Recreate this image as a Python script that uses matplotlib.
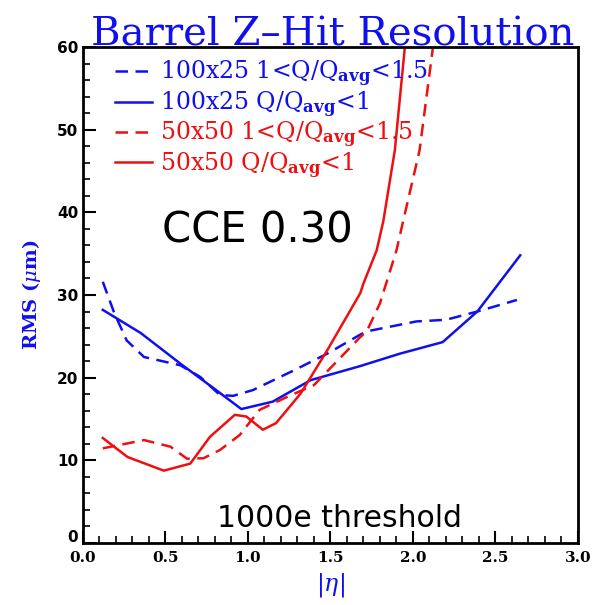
import matplotlib
matplotlib.use("Agg")
import matplotlib.pyplot as plt
from matplotlib.ticker import MultipleLocator
from matplotlib.transforms import ScaledTranslation

plt.rcParams["mathtext.fontset"] = "dejavuserif"

# |eta| vs RMS (um)
eta_b_dash = [0.12, 0.19, 0.265, 0.37, 0.59, 0.71, 0.83, 0.91, 1.03, 1.28, 1.48, 1.68, 1.72, 2.02, 2.2, 2.39, 2.63]
rms_b_dash = [31.6, 27.8, 24.5, 22.5, 21.5, 20.1, 17.9, 17.8, 18.5, 20.9, 22.9, 25.2, 25.6, 26.8, 27.0, 28.0, 29.4]

eta_b_solid = [0.12, 0.35, 0.59, 0.80, 0.96, 1.15, 1.38, 1.68, 1.92, 2.18, 2.39, 2.65]
rms_b_solid = [28.2, 25.4, 21.7, 18.6, 16.2, 17.1, 19.7, 21.4, 22.9, 24.3, 28.0, 34.8]

eta_r_dash = [0.12, 0.37, 0.53, 0.63, 0.73, 0.83, 0.95, 1.07, 1.24, 1.40, 1.68, 1.72, 1.80, 1.90, 1.94, 2.04, 2.12, 2.15]
rms_r_dash = [11.45, 12.45, 11.65, 10.2, 10.25, 11.25, 13.06, 16.1, 17.7, 19.1, 24.9, 25.6, 29.0, 35.4, 38.9, 47.5, 59.8, 63.0]

eta_r_solid = [0.12, 0.27, 0.49, 0.65, 0.77, 0.92, 0.99, 1.09, 1.17, 1.32, 1.48, 1.68, 1.70, 1.78, 1.82, 1.89, 1.95, 1.97]
rms_r_solid = [12.7, 10.4, 8.75, 9.6, 12.85, 15.5, 15.3, 13.7, 14.5, 18.1, 23.3, 30.2, 31.4, 35.4, 38.9, 47.5, 59.8, 63.0]

x_ticks = [0.0, 0.5, 1.0, 1.5, 2.0, 2.5, 3.0]
y_ticks = [0, 10, 20, 30, 40, 50, 60]

sub = r"Q/Q$_{\mathbf{avg}}$"
labels = [
    "100x25 1<" + sub + "<1.5",
    "100x25 " + sub + "<1",
    "50x50 1<" + sub + "<1.5",
    "50x50 " + sub + "<1",
]

BLUE = "#1010ee"
RED = "#ee1010"

fig = plt.figure(figsize=(5.94, 6.05), dpi=100)
ax = fig.add_axes([0.1397, 0.1025, 0.8333, 0.8198])

ax.plot(eta_b_dash, rms_b_dash, color=BLUE, lw=1.8, ls=(0, (5, 3)), label=labels[0])
ax.plot(eta_b_solid, rms_b_solid, color=BLUE, lw=1.8, label=labels[1])
ax.plot(eta_r_dash, rms_r_dash, color=RED, lw=1.8, ls=(0, (5, 3)), label=labels[2])
ax.plot(eta_r_solid, rms_r_solid, color=RED, lw=1.8, label=labels[3])

ax.set_xlim(0, 3)
ax.set_ylim(0, 60)
ax.set_xticks(x_ticks)
ax.set_yticks(y_ticks)
ax.xaxis.set_minor_locator(MultipleLocator(0.1))
ax.yaxis.set_minor_locator(MultipleLocator(2))
ax.tick_params(which="both", direction="in", top=False, right=False)
ax.tick_params(which="major", length=9, width=1.5)
ax.tick_params(which="minor", length=5, width=1.2)
ax.tick_params(axis="x", pad=6)
ax.set_xticklabels([f"{v:.1f}" for v in x_ticks],
                   fontsize=11, fontweight="bold", family="DejaVu Serif")
ax.set_yticklabels([str(v) for v in y_ticks],
                   fontsize=11, fontweight="bold", family="DejaVu Sans")
# lift the "0" label above the x tick labels, as in the original
zero_lbl = ax.get_yticklabels()[0]
zero_lbl.set_transform(zero_lbl.get_transform() + ScaledTranslation(0, 5 / 72, fig.dpi_scale_trans))
for s in ax.spines.values():
    s.set_linewidth(2)

ax.set_xlabel(r"$|\eta|$", color=BLUE, fontsize=17, fontweight="bold", labelpad=4)
ax.set_ylabel(r"RMS ($\mu$m)", color=BLUE, fontsize=14, fontweight="bold",
              family="DejaVu Serif", labelpad=10)

fig.text(0.561, 0.925, "Barrel Z\u2013Hit Resolution", color=BLUE,
         fontsize=29, family="DejaVu Serif", ha="center", va="baseline")

leg = ax.legend(loc="upper left", bbox_to_anchor=(0.045, 0.995), frameon=False,
                handlelength=1.6, handletextpad=0.3, labelspacing=0.0,
                borderaxespad=0.0, prop={"family": "DejaVu Serif", "size": 17})
for txt, col in zip(leg.get_texts(), [BLUE, BLUE, RED, RED]):
    txt.set_color(col)

ax.text(0.352, 0.631, "CCE 0.30", transform=ax.transAxes, fontsize=30,
        family="DejaVu Sans", ha="center", va="center")
ax.text(0.519, 0.05, "1000e threshold", transform=ax.transAxes, fontsize=21.5,
        family="DejaVu Sans", ha="center", va="center")

fig.savefig("out.png", dpi=100)
